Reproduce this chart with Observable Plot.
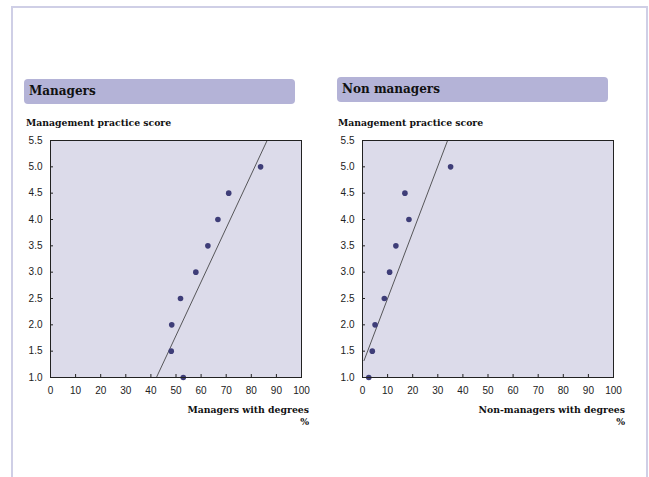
<!DOCTYPE html>
<html>
<head>
<meta charset="utf-8">
<script src="https://cdn.jsdelivr.net/npm/d3@7"></script>
<script src="https://cdn.jsdelivr.net/npm/@observablehq/plot@0.6"></script>
<style>
  html, body { margin: 0; padding: 0; background: #fff; }
  #page { position: relative; width: 649px; height: 477px; overflow: hidden; }
  #frame { position: absolute; left: 11px; top: 6px; width: 637px; height: 480px;
           border: 2px solid #cfcfe6; box-sizing: border-box; }
  .bar { position: absolute; height: 25px; background: #b4b3d7; border-radius: 4px;
         font: bold 12px "DejaVu Serif", serif; color: #111; line-height: 25px;
         padding-left: 5px; box-sizing: border-box; }
  .ylab { position: absolute; font: bold 9.3px "DejaVu Serif", serif; color: #111; }
  .xlab { position: absolute; font: bold 9.3px "DejaVu Serif", serif; color: #111;
          text-align: right; line-height: 12px; }
  .chart { position: absolute; }
</style>
</head>
<body>
<div id="page">
  <div id="frame"></div>
</div>
<script>
// Management practice score bands (y) and share of staff with degrees (x, %)
const scores = [1.0, 1.5, 2.0, 2.5, 3.0, 3.5, 4.0, 4.5, 5.0];
const managersPct = [52.9, 48.1, 48.3, 51.8, 57.9, 62.7, 66.7, 71.0, 83.7];
const nonManagersPct = [2.5, 3.9, 5.0, 8.7, 10.8, 13.3, 18.5, 16.9, 35.1];

// Fitted trend lines: end points as [pct, score]
const managersTrend = [[42.2, 1.0], [86.3, 5.5]];
const nonManagersTrend = [[0.6, 1.32], [33.9, 5.5]];

const xTicks = [0, 10, 20, 30, 40, 50, 60, 70, 80, 90, 100];
const yTicks = [1.0, 1.5, 2.0, 2.5, 3.0, 3.5, 4.0, 4.5, 5.0, 5.5];

const panels = [
  {title: "Managers", xLabel: "Managers with degrees", pct: managersPct, trend: managersTrend,
   left: 0, barLeft: 24, barTop: 79, xlabRight: 309},
  {title: "Non managers", xLabel: "Non-managers with degrees", pct: nonManagersPct, trend: nonManagersTrend,
   left: 312, barLeft: 337, barTop: 77, xlabRight: 625}
];

const page = document.getElementById("page");

for (const p of panels) {
  const bar = document.createElement("div");
  bar.className = "bar";
  bar.style.left = p.barLeft + "px";
  bar.style.top = p.barTop + "px";
  bar.style.width = "271px";
  bar.textContent = p.title;
  page.appendChild(bar);

  const ylab = document.createElement("div");
  ylab.className = "ylab";
  ylab.style.left = (p.left + 26) + "px";
  ylab.style.top = "117px";
  ylab.textContent = "Management practice score";
  page.appendChild(ylab);

  const points = scores.map((s, i) => ({score: s, pct: p.pct[i]}));

  const chart = Plot.plot({
    width: 320,
    height: 275,
    marginLeft: 50,
    marginRight: 19,
    marginTop: 10,
    marginBottom: 28,
    style: {fontFamily: "Liberation Sans, Arial, sans-serif", fontSize: "10px", color: "#222", background: "transparent"},
    x: {domain: [0, 100], ticks: xTicks},
    y: {domain: [1, 5.5], ticks: yTicks},
    marks: [
      Plot.frame({fill: "#dcdbea"}),
      Plot.axisX({ticks: xTicks, tickSize: -3, tickPadding: 12, tickFormat: d => d, label: null, stroke: "#222", fontSize: 10}),
      Plot.axisY({ticks: yTicks, tickSize: -3, tickPadding: 11, tickFormat: d3.format(".1f"), label: null, stroke: "#222", fontSize: 10}),
      Plot.line(p.trend, {x: d => d[0], y: d => d[1], stroke: "#333", strokeWidth: 0.8}),
      Plot.dot(points, {x: "pct", y: "score", r: 2.8, fill: "#3e3d78", stroke: "none"}),
      Plot.frame({stroke: "#222", strokeWidth: 1})
    ]
  });
  chart.classList.add("chart");
  chart.style.left = p.left + "px";
  chart.style.top = "130px";
  page.appendChild(chart);

  const xlab = document.createElement("div");
  xlab.className = "xlab";
  xlab.style.left = (p.xlabRight - 220) + "px";
  xlab.style.width = "220px";
  xlab.style.top = "404px";
  const l1 = document.createElement("div");
  l1.textContent = p.xLabel;
  const l2 = document.createElement("div");
  l2.textContent = "%";
  xlab.appendChild(l1);
  xlab.appendChild(l2);
  page.appendChild(xlab);
}
</script>
</body>
</html>
